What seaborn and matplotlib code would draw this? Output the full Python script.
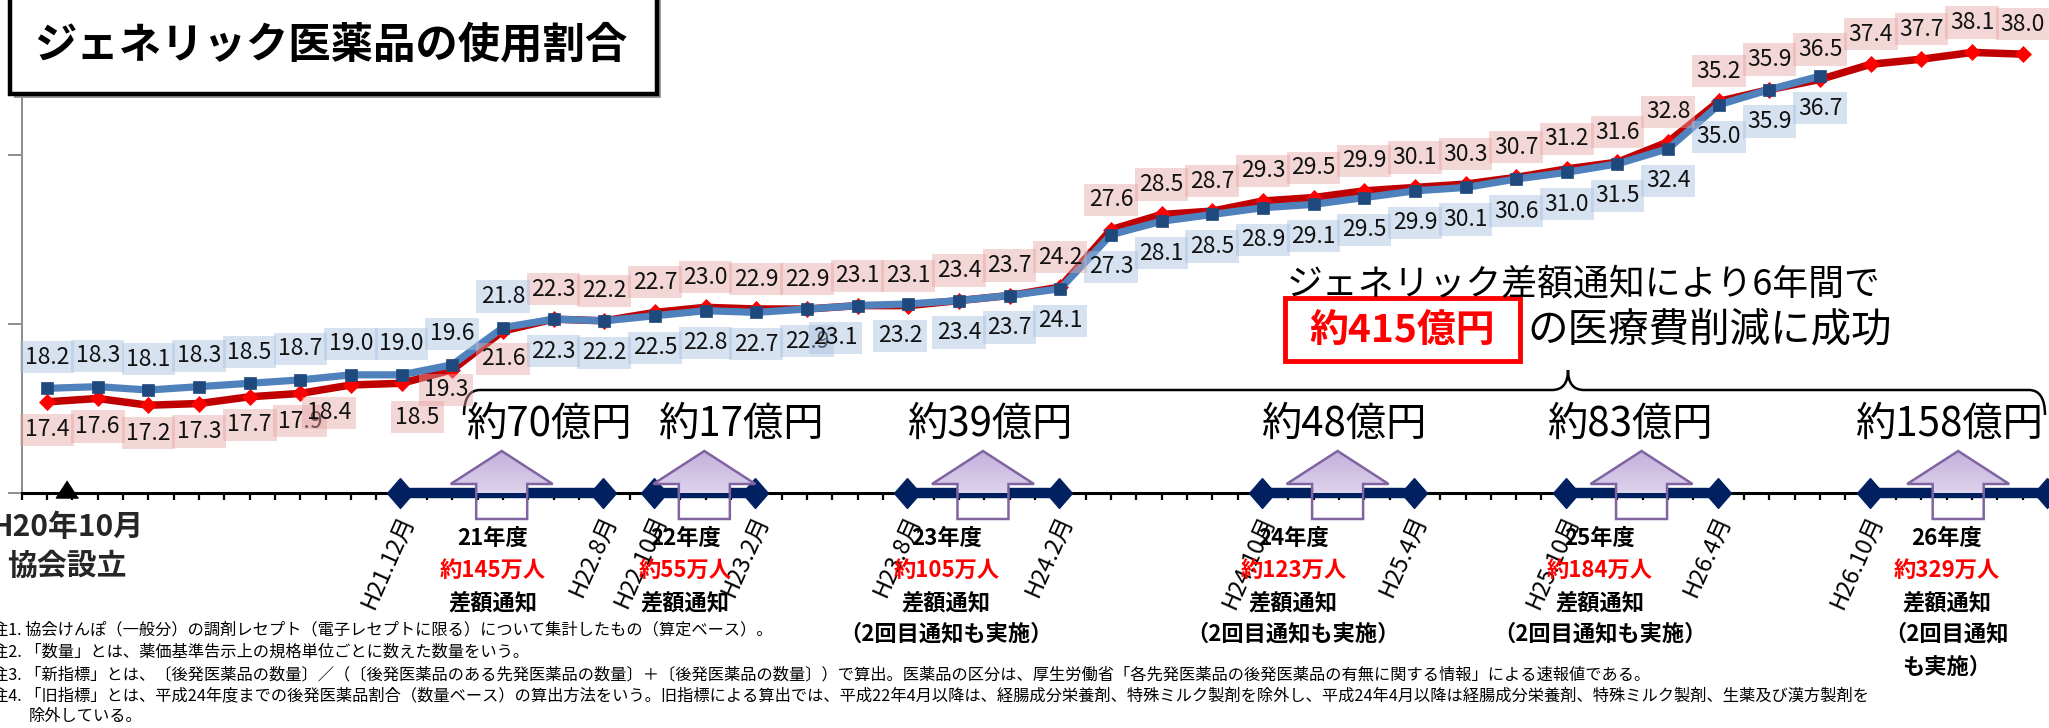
import numpy as np
import pandas as pd
import matplotlib
matplotlib.use("Agg")
import matplotlib.pyplot as plt
import seaborn as sns
from matplotlib.patches import Polygon, Rectangle, PathPatch
from matplotlib.path import Path
from matplotlib.colors import LinearSegmentedColormap

# ---- data -------------------------------------------------------------
# 後発医薬品の使用割合（%）, bimonthly from H20年10月
old_index = [17.4, 17.6, 17.2, 17.3, 17.7, 17.9, 18.4, 18.5, 19.3, 21.6,
             22.3, 22.2, 22.7, 23.0, 22.9, 22.9, 23.1, 23.1, 23.4, 23.7,
             24.2, 27.6, 28.5, 28.7, 29.3, 29.5, 29.9, 30.1, 30.3, 30.7,
             31.2, 31.6, 32.8, 35.2, 35.9, 36.5, 37.4, 37.7, 38.1, 38.0]
new_index = [18.2, 18.3, 18.1, 18.3, 18.5, 18.7, 19.0, 19.0, 19.6, 21.8,
             22.3, 22.2, 22.5, 22.8, 22.7, 22.9, 23.1, 23.2, 23.4, 23.7,
             24.1, 27.3, 28.1, 28.5, 28.9, 29.1, 29.5, 29.9, 30.1, 30.6,
             31.0, 31.5, 32.4, 35.0, 35.9, 36.7]

# notification periods (months after H20年10月)
start_labels = ["H21.12月", "H22.10月", "H23.8月", "H24.10月", "H25.10月", "H26.10月"]
end_labels = ["H22.8月", "H23.2月", "H24.2月", "H25.4月", "H26.4月", ""]
start_months = [14, 24, 34, 48, 60, 72]
end_months = [22, 28, 40, 54, 66, 79]
fiscal_years = ["21年度", "22年度", "23年度", "24年度", "25年度", "26年度"]
recipients = ["約145万人", "約55万人", "約105万人", "約123万人", "約184万人", "約329万人"]
second_round = [[], [], ["（2回目通知も実施）"], ["（2回目通知も実施）"],
                ["（2回目通知も実施）"], ["（2回目通知", "も実施）"]]
savings = ["約70億円", "約17億円", "約39億円", "約48億円", "約83億円", "約158億円"]

title = "ジェネリック医薬品の使用割合"
headline = "ジェネリック差額通知により6年間で"
total_saving = "約415億円"
headline_tail = "の医療費削減に成功"
notes = [
    "注1. 協会けんぽ（一般分）の調剤レセプト（電子レセプトに限る）について集計したもの（算定ベース）。",
    "注2. 「数量」とは、薬価基準告示上の規格単位ごとに数えた数量をいう。",
    "注3. 「新指標」とは、〔後発医薬品の数量〕／（〔後発医薬品のある先発医薬品の数量〕＋〔後発医薬品の数量〕）で算出。医薬品の区分は、厚生労働省「各先発医薬品の後発医薬品の有無に関する情報」による速報値である。",
    "注4. 「旧指標」とは、平成24年度までの後発医薬品割合（数量ベース）の算出方法をいう。旧指標による算出では、平成22年4月以降は、経腸成分栄養剤、特殊ミルク製剤を除外し、平成24年4月以降は経腸成分栄養剤、特殊ミルク製剤、生薬及び漢方製剤を",
    "除外している。",
]

# ---- layout helpers --------------------------------------------------------
W, H = 2049, 728
AX_LEFT, AX_BOTTOM_ROW = 21.7, 493.0      # pixel position of the axis corner
PX_MONTH, PX_PCT = 25.33, 16.88          # pixels per month / per percentage point
Y0 = 12.0
ORIGIN = 0.95                            # x of H20年10月 on the month scale


def vy(row):
    """pixel row (from top) -> data y"""
    return Y0 + (AX_BOTTOM_ROW - row) / PX_PCT


def wx(px):
    """pixel width -> data width"""
    return px / PX_MONTH


sns.set_theme(style="white")
plt.rcParams["font.family"] = ["Noto Sans CJK JP", "DejaVu Sans"]

fig = plt.figure(figsize=(W / 100, H / 100), dpi=100)
fig.patch.set_facecolor("white")
ax = fig.add_axes([AX_LEFT / W, (H - AX_BOTTOM_ROW) / H, (W - AX_LEFT) / W, AX_BOTTOM_ROW / H])
ax.set_facecolor("white")
XMAX = (W - AX_LEFT) / PX_MONTH
YMAX = vy(0)

# ---- the two series ----------------------------------------------------------
x_old = 1 + 2 * np.arange(len(old_index))
x_new = 1 + 2 * np.arange(len(new_index))
df_old = pd.DataFrame({"x": x_old, "rate": old_index})
df_new = pd.DataFrame({"x": x_new, "rate": new_index})

sns.lineplot(data=df_old, x="x", y="rate", ax=ax, color="#c00000", lw=5.4,
             marker="D", markersize=7.8, markerfacecolor="#ff0000",
             markeredgecolor="#ff0000", markeredgewidth=0.5, zorder=3)
sns.lineplot(data=df_new, x="x", y="rate", ax=ax, color="#4f81bd", lw=5.2,
             marker="s", markersize=8.8, markerfacecolor="#1f497d",
             markeredgecolor="#1f497d", markeredgewidth=0.5, zorder=3.1)

PT = 72 / 100  # points per pixel
pink = (0.902, 0.647, 0.643, 0.45)
blue = (0.655, 0.753, 0.878, 0.45)


def tag(x, y, val, dy_px, face, dx_px=0):
    ax.annotate(f"{val:.1f}", (x, y), xytext=(dx_px * PT, dy_px * PT),
                textcoords="offset points", ha="center", va="center",
                fontsize=16.5, color="#111111", zorder=5, annotation_clip=False,
                bbox=dict(boxstyle="square,pad=0.2", fc=face, ec="none"))


red_nudge = {6: (-22, 0), 7: (16, -6), 8: (-6, 8)}
blue_nudge = {16: (-22, 0), 17: (-8, 0)}
for i, (x, v) in enumerate(zip(x_old, old_index)):
    dx, dy = red_nudge.get(i, (0, 0))
    base = -28 if i <= 9 else 30
    tag(x, v, v, base + dy, pink, dx)
for i, (x, v) in enumerate(zip(x_new, new_index)):
    dx, dy = blue_nudge.get(i, (0, 0))
    base = 31 if i <= 9 else -32
    tag(x, v, v, base + dy, blue, dx)

# ---- axes styling -------------------------------------------------------
ax.set_xlim(0, XMAX)
ax.set_ylim(Y0, YMAX)
for s in ("top", "right"):
    ax.spines[s].set_visible(False)
ax.spines["left"].set_color("#8c8c8c")
ax.spines["left"].set_linewidth(1.4)
ax.spines["bottom"].set_color("black")
ax.spines["bottom"].set_linewidth(2.2)
ax.set_xticks(np.arange(0, int(XMAX) + 1))
ax.set_yticks([12, 22, 32])
ax.tick_params(axis="x", direction="out", length=5, width=1.6, color="black",
               labelbottom=False, bottom=True)
ax.tick_params(axis="y", direction="out", length=10, width=1.4, color="#8c8c8c",
               labelleft=False, left=True)
ax.set_xlabel("")
ax.set_ylabel("")
ax.grid(False)

# ---- timeline -------------------------------------------------------------
NAVY = "#002060"
diamond = [(0, 1), (0.87, 0), (0, -1), (-0.87, 0), (0, 1)]
xs = [ORIGIN + m for m in start_months]
xe = [ORIGIN + m for m in end_months]
for a, b in zip(xs, xe):
    ax.plot([a, b], [Y0, Y0], color=NAVY, lw=7.5, solid_capstyle="butt",
            zorder=4, clip_on=False)
ax.plot(xs + xe, [Y0] * (len(xs) + len(xe)), ls="none", marker=diamond,
        markersize=21.5, color=NAVY, zorder=4.5, clip_on=False)

FOUNDED_X = 1.8
ax.plot([FOUNDED_X], [vy(489.5)], ls="none", marker=[(0, 1), (-1.3, -1), (1.3, -1)],
        markersize=16, color="black", zorder=4.5, clip_on=False)
ax.text(FOUNDED_X, vy(527), "H20年10月", ha="center", va="center", fontsize=21.5,
        fontweight="bold", clip_on=False)
ax.text(FOUNDED_X, vy(566), "協会設立", ha="center", va="center", fontsize=21.5,
        fontweight="bold", clip_on=False)

# rotated month labels
for lab, x in list(zip(start_labels, xs)) + list(zip(end_labels, xe)):
    if lab:
        ax.text(x + 0.3, vy(516), lab, rotation=66, rotation_mode="anchor",
                ha="right", va="center", fontsize=17, color="black", clip_on=False)

# gradient up-arrows
lav = LinearSegmentedColormap.from_list("lav", ["#efeaf7", "#c3b0dc"])
grad = np.linspace(0, 1, 256).reshape(-1, 1)
head_w, shaft_w = wx(102), wx(51)
y_tip, y_neck, y_base = vy(451), vy(484), vy(519)
mids = [(a + b) / 2 for a, b in zip(xs, xe)]
for xc in mids:
    verts = [(xc, y_tip), (xc + head_w / 2, y_neck), (xc + shaft_w / 2, y_neck),
             (xc + shaft_w / 2, y_base), (xc - shaft_w / 2, y_base),
             (xc - shaft_w / 2, y_neck), (xc - head_w / 2, y_neck)]
    poly = Polygon(verts, closed=True, fc="none", ec="#8064a2", lw=1.8,
                   zorder=6.1, clip_on=False)
    ax.add_patch(poly)
    im = ax.imshow(grad, cmap=lav, origin="lower", aspect="auto", zorder=6,
                   extent=(xc - head_w / 2, xc + head_w / 2, y_base, y_tip))
    im.set_clip_path(poly)
    im.set_clip_box(None)

ax.set_xlim(0, XMAX)
ax.set_ylim(Y0, YMAX)

# fiscal-year captions under each arrow
text_shift = [-0.35, -0.75, -1.45, -1.75, -1.65, -0.45]
label_shift = [1.85, 1.45, 0.25, 0.25, -0.45, -0.35]
rows = [538, 570, 603, 634, 667]
for k, xc in enumerate(mids):
    tx = xc + text_shift[k]
    lines = [(fiscal_years[k], "black"), (recipients[k], "#ff0000"), ("差額通知", "black")]
    lines += [(s, "black") for s in second_round[k]]
    for (s, c), r in zip(lines, rows):
        ax.text(tx, vy(r), s, ha="center", va="center", fontsize=16,
                fontweight="bold", color=c, clip_on=False, zorder=7)
    ax.text(xc + label_shift[k], vy(424), savings[k], ha="center", va="center",
            fontsize=29, color="black", zorder=7)

# brace over the six notification periods
bl, bt, br = wx(464 - AX_LEFT), wx(1568 - AX_LEFT), wx(2045 - AX_LEFT)
yb, ytop, yhook = vy(390), vy(370), vy(415)
r = wx(16)
brace = Path(
    [(bl, yhook), (bl, yb), (bl + r, yb), (bt - r, yb), (bt, yb), (bt, ytop),
     (bt, yb), (bt + r, yb), (br - r, yb), (br, yb), (br, yhook)],
    [Path.MOVETO, Path.CURVE3, Path.CURVE3, Path.LINETO, Path.CURVE3, Path.CURVE3,
     Path.CURVE3, Path.CURVE3, Path.LINETO, Path.CURVE3, Path.CURVE3])
ax.add_patch(PathPatch(brace, fc="none", ec="black", lw=1.8, zorder=4, clip_on=False))

# headline
hx = wx(1287 - AX_LEFT)
ax.text(hx, vy(285), headline, ha="left", va="center", fontsize=25.8, color="black", zorder=7)
bx0, bx1 = wx(1285 - AX_LEFT), wx(1520 - AX_LEFT)
ax.add_patch(Rectangle((bx0, vy(361)), bx1 - bx0, vy(298) - vy(361), fc="white",
                       ec="#ff0000", lw=3.5, zorder=6.5))
ax.text((bx0 + bx1) / 2, vy(330), total_saving, ha="center", va="center",
        fontsize=28, fontweight="bold", color="#ff0000", zorder=7)
ax.text(wx(1527 - AX_LEFT), vy(330), headline_tail, ha="left", va="center",
        fontsize=29.2, color="black", zorder=7)

# ---- title box --------------------------------------------------------------
fig.add_artist(Rectangle((14 / W, 1 - 98 / H), 647 / W, 0.3, transform=fig.transFigure,
                         fc="#9a9a9a", ec="none", zorder=9))
fig.add_artist(Rectangle((10 / W, 1 - 94 / H), 647 / W, 0.3, transform=fig.transFigure,
                         fc="white", ec="black", lw=3.2, zorder=10))
fig.text(331 / W, 1 - 46 / H, title, ha="center", va="center", fontsize=30.5,
         fontweight="bold", color="black", zorder=11)

# ---- notes -------------------------------------------------------------------
note_rows = [630, 652, 675, 696, 717]
for i, (s, r) in enumerate(zip(notes, note_rows)):
    x0 = 29 if i == len(notes) - 1 else -8
    fig.text(x0 / W, 1 - r / H, s, ha="left", va="center", fontsize=11.7, color="black")

fig.savefig("out.png", dpi=100, facecolor="white")
